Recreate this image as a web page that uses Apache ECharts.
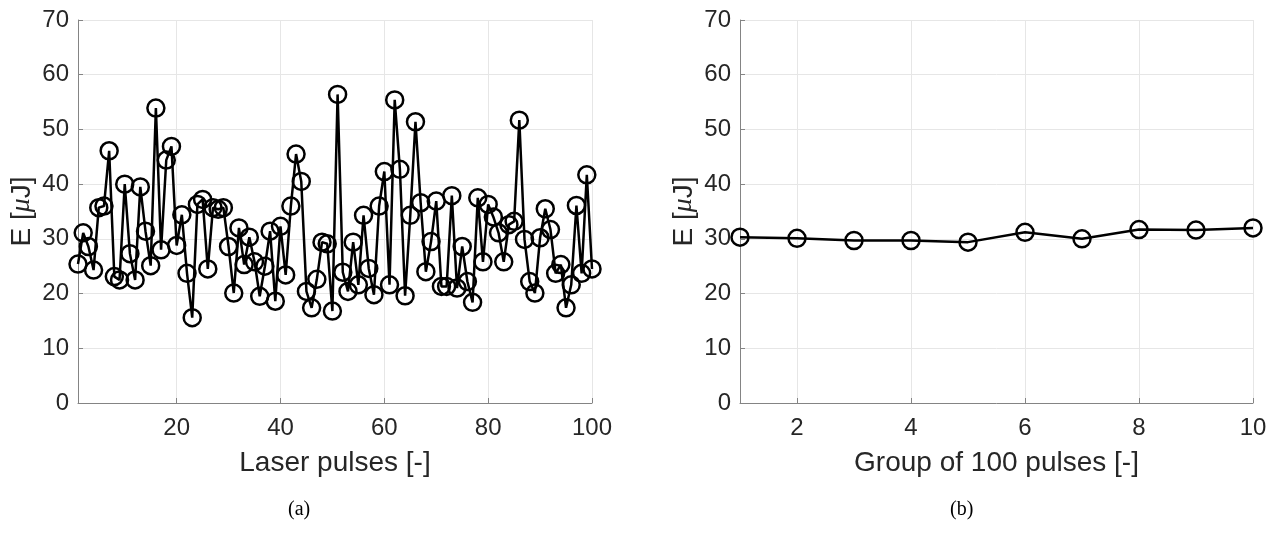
<!DOCTYPE html>
<html>
<head>
<meta charset="utf-8">
<script src="https://cdn.jsdelivr.net/npm/echarts@6/dist/echarts.min.js"></script>
<style>
html,body{margin:0;padding:0;background:#fff;}
#c{width:1270px;height:545px;}
</style>
</head>
<body>
<div id="c"></div>
<script>
// Panel (a): energy of individual laser pulses
var pulseIndex = [];
for (var i = 1; i <= 100; i++) pulseIndex.push(i);
var pulseEnergy = [
  25.4, 31.1, 28.6, 24.3, 35.7, 36.0, 46.1, 23.1, 22.5, 40.0,
  27.3, 22.5, 39.5, 31.4, 25.1, 53.9, 28.0, 44.4, 46.9, 28.8,
  34.4, 23.7, 15.6, 36.3, 37.2, 24.5, 35.7, 35.4, 35.7, 28.6,
  20.1, 32.0, 25.3, 30.3, 25.8, 19.5, 25.0, 31.4, 18.6, 32.3,
  23.4, 36.0, 45.5, 40.5, 20.4, 17.4, 22.6, 29.4, 29.1, 16.8,
  56.4, 23.9, 20.4, 29.4, 21.6, 34.3, 24.6, 19.8, 36.0, 42.3,
  21.6, 55.4, 42.7, 19.6, 34.3, 51.4, 36.6, 24.0, 29.5, 36.9,
  21.3, 21.3, 37.9, 21.0, 28.6, 22.2, 18.4, 37.5, 25.8, 36.3,
  34.0, 31.1, 25.8, 32.6, 33.2, 51.7, 29.9, 22.2, 20.1, 30.2,
  35.5, 31.7, 23.7, 25.3, 17.4, 21.6, 36.1, 23.7, 41.7, 24.5
];
var pulseTicks = [20, 40, 60, 80, 100];

// Panel (b): mean energy per group of 100 pulses
var groupIndex = [1, 2, 3, 4, 5, 6, 7, 8, 9, 10];
var groupEnergy = [30.3, 30.1, 29.7, 29.7, 29.4, 31.2, 30.0, 31.7, 31.6, 32.0];
var groupTicks = [2, 4, 6, 8, 10];

var FONT = 'Liberation Sans, Arial, sans-serif';
var TXT = '#262626';
var AXC = '#848484';
var GRIDC = '#e6e6e6';

function xAxisDef(gridIndex, min, max, ticks, name) {
  return {
    type: 'value', gridIndex: gridIndex, min: min, max: max,
    name: name, nameLocation: 'middle', nameGap: 46,
    nameTextStyle: {fontFamily: FONT, fontSize: 28, color: TXT},
    axisLine: {show: true, onZero: false, lineStyle: {color: AXC, width: 1}},
    axisTick: {show: true, inside: true, length: 5, customValues: ticks, lineStyle: {color: AXC}},
    axisLabel: {show: true, customValues: ticks, margin: 13, fontFamily: FONT, fontSize: 24, color: TXT},
    splitLine: {show: true, lineStyle: {color: GRIDC, width: 1}}
  };
}
function yAxisDef(gridIndex) {
  return {
    type: 'value', gridIndex: gridIndex, min: 0, max: 70, interval: 10,
    name: 'E [{i|μ}J]', nameLocation: 'middle', nameGap: 42, nameRotate: 90,
    nameTextStyle: {fontFamily: FONT, fontSize: 28, color: TXT,
      rich: {i: {fontFamily: 'Liberation Serif, serif', fontStyle: 'italic', fontSize: 28, color: TXT}}},
    axisLine: {show: true, lineStyle: {color: AXC, width: 1}},
    axisTick: {show: true, inside: true, length: 5, lineStyle: {color: AXC}},
    axisLabel: {show: true, margin: 9, fontFamily: FONT, fontSize: 24, color: TXT},
    splitLine: {show: true, lineStyle: {color: GRIDC, width: 1}}
  };
}
function toPairs(xs, ys) {
  return xs.map(function (x, k) { return [x, ys[k]]; });
}
function seriesDef(idx, data) {
  return {
    type: 'line', xAxisIndex: idx, yAxisIndex: idx, data: data,
    symbol: 'circle', symbolSize: 17, showAllSymbol: true,
    lineStyle: {color: '#000', width: 2.5},
    itemStyle: {color: 'rgba(0,0,0,0)', borderColor: '#000', borderWidth: 2.5},
    emphasis: {disabled: true}, animation: false, silent: true, clip: false
  };
}

var chart = echarts.init(document.getElementById('c'), null, {renderer: 'canvas'});
chart.setOption({
  backgroundColor: '#fff',
  animation: false,
  grid: [
    {left: 78, top: 20, width: 514, height: 383, containLabel: false},
    {left: 740, top: 20, width: 513, height: 383, containLabel: false}
  ],
  xAxis: [
    xAxisDef(0, 1, 100, pulseTicks, 'Laser pulses [-]'),
    xAxisDef(1, 1, 10, groupTicks, 'Group of 100 pulses [-]')
  ],
  yAxis: [yAxisDef(0), yAxisDef(1)],
  series: [
    seriesDef(0, toPairs(pulseIndex, pulseEnergy)),
    seriesDef(1, toPairs(groupIndex, groupEnergy))
  ],
  graphic: [
    {type: 'text', left: 288, top: 500, style: {text: '(a)', fontFamily: 'Liberation Serif, serif', fontSize: 20, fill: '#000'}},
    {type: 'text', left: 950, top: 500, style: {text: '(b)', fontFamily: 'Liberation Serif, serif', fontSize: 20, fill: '#000'}}
  ]
});
</script>
</body>
</html>
